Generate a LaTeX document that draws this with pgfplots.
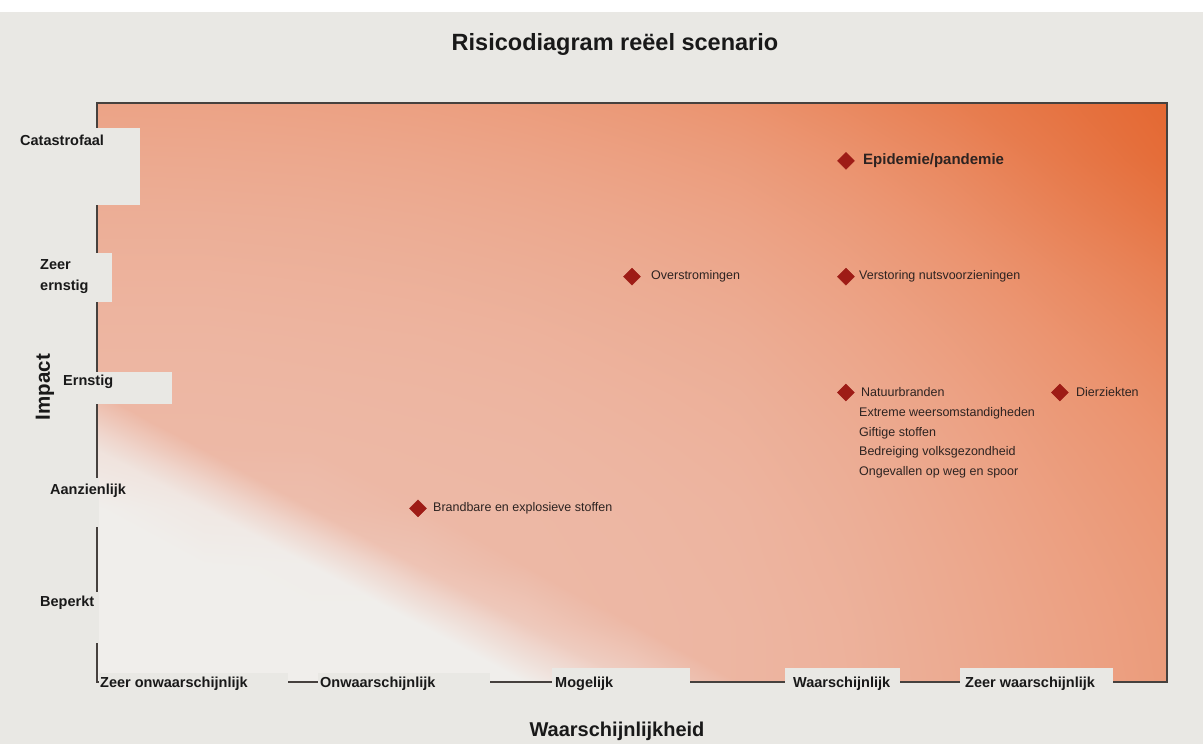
\documentclass[border=0pt]{standalone}
\usepackage{fontspec}
\setmainfont{Liberation Sans}
\usepackage{pgfplots}
\pgfplotsset{compat=1.18}
\usepackage{pgfplotstable}

\definecolor{bg}{RGB}{233,232,228}
\definecolor{mk}{RGB}{158,28,22}
\definecolor{axc}{RGB}{70,65,62}
\definecolor{lbl}{RGB}{45,35,33}

\newcommand\ptfont{\fontsize{12.5}{14}\selectfont}
\newcommand\catfont{\bfseries\fontsize{14.5}{16}\selectfont}

% background shade: risk level per grid point (0 = white, 4 = deep orange)
\pgfplotstableread{
x y c
0.5 0.5 0
1.0 0.5 0
1.5 0.5 0
2.0 0.5 0
2.5 0.5 0
3.0 0.5 1.24
3.5 0.5 2.12
4.0 0.5 2.22
4.5 0.5 2.40
5.0 0.5 2.60
5.5 0.5 2.80
0.5 1.0 0
1.0 1.0 0
1.5 1.0 0
2.0 1.0 0
2.5 1.0 1.45
3.0 1.0 2.07
3.5 1.0 2.12
4.0 1.0 2.23
4.5 1.0 2.42
5.0 1.0 2.62
5.5 1.0 2.82
0.5 1.5 0
1.0 1.5 0
1.5 1.5 0.04
2.0 1.5 1.66
2.5 1.5 2.05
3.0 1.5 2.08
3.5 1.5 2.14
4.0 1.5 2.26
4.5 1.5 2.45
5.0 1.5 2.66
5.5 1.5 2.87
0.5 2.0 0
1.0 2.0 0.26
1.5 2.0 1.88
2.0 2.0 2.04
2.5 2.0 2.06
3.0 2.0 2.10
3.5 2.0 2.16
4.0 2.0 2.30
4.5 2.0 2.50
5.0 2.0 2.72
5.5 2.0 2.94
0.5 2.5 0.49
1.0 2.5 2.04
1.5 2.5 2.05
2.0 2.5 2.07
2.5 2.5 2.09
3.0 2.5 2.14
3.5 2.5 2.21
4.0 2.5 2.35
4.5 2.5 2.56
5.0 2.5 2.80
5.5 2.5 3.02
0.5 3.0 2.08
1.0 3.0 2.08
1.5 3.0 2.09
2.0 3.0 2.11
2.5 3.0 2.14
3.0 3.0 2.20
3.5 3.0 2.27
4.0 3.0 2.43
4.5 3.0 2.64
5.0 3.0 2.90
5.5 3.0 3.14
0.5 3.5 2.13
1.0 3.5 2.13
1.5 3.5 2.15
2.0 3.5 2.17
2.5 3.5 2.21
3.0 3.5 2.28
3.5 3.5 2.36
4.0 3.5 2.53
4.5 3.5 2.76
5.0 3.5 3.03
5.5 3.5 3.29
0.5 4.0 2.21
1.0 4.0 2.21
1.5 4.0 2.23
2.0 4.0 2.26
2.5 4.0 2.31
3.0 4.0 2.38
3.5 4.0 2.48
4.0 4.0 2.66
4.5 4.0 2.91
5.0 4.0 3.19
5.5 4.0 3.47
0.5 4.5 2.31
1.0 4.5 2.31
1.5 4.5 2.33
2.0 4.5 2.37
2.5 4.5 2.43
3.0 4.5 2.51
3.5 4.5 2.62
4.0 4.5 2.82
4.5 4.5 3.09
5.0 4.5 3.40
5.5 4.5 3.70
0.5 5.0 2.44
1.0 5.0 2.45
1.5 5.0 2.47
2.0 5.0 2.51
2.5 5.0 2.58
3.0 5.0 2.68
3.5 5.0 2.80
4.0 5.0 3.02
4.5 5.0 3.28
5.0 5.0 3.60
5.5 5.0 3.90
0.5 5.5 2.60
1.0 5.5 2.61
1.5 5.5 2.64
2.0 5.5 2.69
2.5 5.5 2.77
3.0 5.5 2.88
3.5 5.5 3.03
4.0 5.5 3.25
4.5 5.5 3.50
5.0 5.5 3.75
5.5 5.5 4.00
}\riskgrid

\begin{document}
\begin{tikzpicture}[x=1pt, y=-1pt]
% page background
\fill[bg] (0,0) rectangle (1203,744);
\fill[white] (0,0) rectangle (1203,12);

\begin{axis}[
    at={(97pt,-682pt)}, anchor=south west,
    scale only axis, width=1070pt, height=579pt,
    xmin=0.5, xmax=5.5, ymin=0.5, ymax=5.5,
    xtick=\empty, ytick=\empty,
    axis line style={draw=axc, line width=1.3pt},
    colormap={risk}{rgb255=(240,238,235) rgb255=(239,214,205) rgb255=(237,186,168) rgb255=(235,148,112) rgb255=(228,104,50)},
    axis on top,
]
    \addplot[surf, shader=interp, mesh/cols=11, point meta=explicit,
             point meta min=0, point meta max=4] table[meta=c] {\riskgrid};

    \addplot[only marks, mark=square*, mark size=6pt,
             mark options={rotate=45, fill=mk, draw=mk}]
        coordinates {(2,2) (3,4) (4,4) (4,3) (5,3) (4,5)};

    \begin{scope}[every node/.style={anchor=west, inner sep=0pt, text=lbl, font=\ptfont}]
        \node at ([xshift=15pt]axis cs:2,2) {Brandbare en explosieve stoffen};
        \node at ([xshift=19pt]axis cs:3,4) {Overstromingen};
        \node at ([xshift=13pt]axis cs:4,4) {Verstoring nutsvoorzieningen};
        \node at ([xshift=15pt]axis cs:4,3) {Natuurbranden};
        \node at ([xshift=16pt]axis cs:5,3) {Dierziekten};
        \node at ([xshift=13pt, yshift=-21pt]axis cs:4,3) {Extreme weersomstandigheden};
        \node at ([xshift=13pt, yshift=-41pt]axis cs:4,3) {Giftige stoffen};
        \node at ([xshift=13pt, yshift=-60pt]axis cs:4,3) {Bedreiging volksgezondheid};
        \node at ([xshift=13pt, yshift=-80pt]axis cs:4,3) {Ongevallen op weg en spoor};
    \end{scope}
    \node[anchor=west, inner sep=0pt, text=lbl, font=\bfseries\fontsize{15}{17}\selectfont]
        at ([xshift=17pt]axis cs:4,5) {Epidemie/pandemie};
\end{axis}

% label boxes over the axis lines
\fill[bg] (8,128) rectangle (140,205);
\fill[bg] (35,253) rectangle (112,302);
\fill[bg] (60,372) rectangle (172,404);
\fill[bg] (40,478) rectangle (99,527);
\fill[bg] (35,592) rectangle (99,643);
\fill[bg] (99,673) rectangle (288,697);
\fill[bg] (318,673) rectangle (490,697);
\fill[bg] (552,668) rectangle (690,697);
\fill[bg] (785,668) rectangle (900,697);
\fill[bg] (960,668) rectangle (1113,697);

\begin{scope}[every node/.style={anchor=west, inner sep=0pt, text=black!90, font=\catfont}]
    \node at (20,140) {Catastrofaal};
    \node at (40,265) {Zeer};
    \node at (40,287) {ernstig};
    \node at (63,382) {Ernstig};
    \node at (50,491) {Aanzienlijk};
    \node at (40,603) {Beperkt};
    \node at (100,684) {Zeer onwaarschijnlijk};
    \node at (320,684) {Onwaarschijnlijk};
    \node at (555,684) {Mogelijk};
    \node at (793,684) {Waarschijnlijk};
    \node at (965,684) {Zeer waarschijnlijk};
\end{scope}

\node[text=black!90, font=\bfseries\fontsize{23.5}{26}\selectfont] at (615,44) {Risicodiagram reëel scenario};
\node[text=black!90, font=\bfseries\fontsize{20}{22}\selectfont] at (617,731) {Waarschijnlijkheid};
\node[text=black!90, rotate=90, font=\bfseries\fontsize{20.5}{22}\selectfont] at (45,387) {Impact};
\end{tikzpicture}
\end{document}
